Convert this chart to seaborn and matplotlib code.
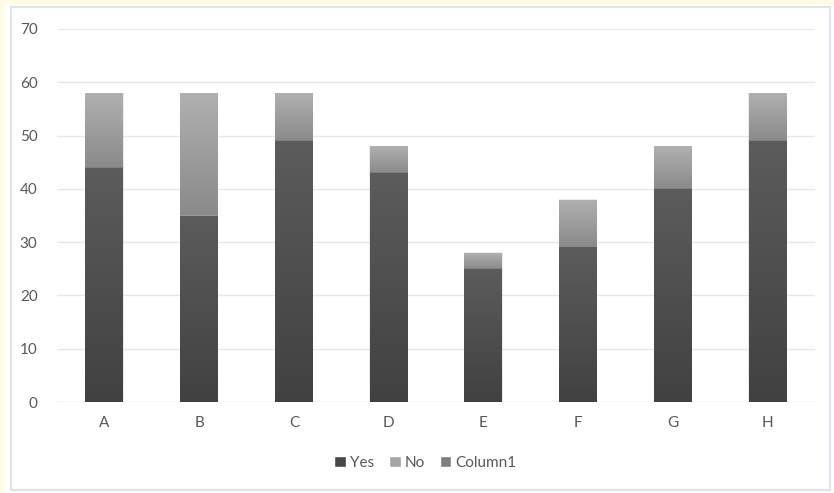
import numpy as np
import pandas as pd
import matplotlib
matplotlib.use("Agg")
import matplotlib.pyplot as plt
from matplotlib.patches import Rectangle, Patch
from matplotlib.colors import LinearSegmentedColormap
import seaborn as sns

categories = ["A", "B", "C", "D", "E", "F", "G", "H"]
yes_vals = [44, 35, 49, 43, 25, 29, 40, 49]
no_vals = [14, 23, 9, 5, 3, 9, 8, 9]
col1_vals = [0, 0, 0, 0, 0, 0, 0, 0]
yticks = [0, 10, 20, 30, 40, 50, 60, 70]

sns.set_theme(style="white")
plt.rcParams["font.family"] = ["Lato", "DejaVu Sans"]

W, H = 834, 493
fig = plt.figure(figsize=(W / 100, H / 100), dpi=100)
fig.patch.set_facecolor("#fffbe6")
fig.patches.append(Rectangle((5 / W, 0), 1, 1 - 5 / H, transform=fig.transFigure,
                             facecolor="white", edgecolor="none", zorder=-10))
fig.patches.append(Rectangle((10.5 / W, 3 / H), (830 - 10.5) / W, (486 - 3) / H,
                             transform=fig.transFigure, facecolor="white",
                             edgecolor="#dfe3ec", linewidth=1.5, zorder=-9))

ax = fig.add_axes([57 / W, 1 - 402 / H, (815 - 57) / W, (402 - 29) / H])
ax.set_facecolor("none")

df = pd.DataFrame({"cat": categories, "Yes": yes_vals, "No": no_vals, "Column1": col1_vals})
df["total"] = df["Yes"] + df["No"] + df["Column1"]

text_col = "#55595f"
bw = 0.40
sns.barplot(data=df, x="cat", y="total", color="#a5a5a5", width=bw, ax=ax,
            saturation=1, zorder=2, linewidth=0)
n_no = len(ax.patches)
sns.barplot(data=df, x="cat", y="Yes", color="#474747", width=bw, ax=ax,
            saturation=1, zorder=3, linewidth=0)

cmap_no = LinearSegmentedColormap.from_list("no", ["#8a8a8a", "#b0b0b0"])
cmap_yes = LinearSegmentedColormap.from_list("yes", ["#414141", "#5c5c5c"])
grad = np.linspace(0, 1, 256).reshape(-1, 1)

for i, p in enumerate(list(ax.patches)):
    x, w = p.get_x(), p.get_width()
    if i < n_no:
        idx = i
        y0, y1 = yes_vals[idx], yes_vals[idx] + no_vals[idx]
        cm, z = cmap_no, 2.5
    else:
        idx = i - n_no
        y0, y1 = 0, yes_vals[idx]
        cm, z = cmap_yes, 3.5
    sh = Rectangle((x - 0.004, y0), w + 0.008, y1 - y0 + 0.08, facecolor="#000000",
                   alpha=0.08, edgecolor="none", zorder=z - 0.8)
    ax.add_patch(sh)
    im = ax.imshow(grad, extent=[x, x + w, y0, y1], origin="lower", cmap=cm,
                   aspect="auto", zorder=z, interpolation="bilinear")
    im.set_clip_path(p)

ax.set_xlim(-0.5, len(categories) - 0.5)
ax.set_ylim(0, 70)
ax.set_yticks(yticks)
for yv in yticks:
    ax.axhline(yv, color="#d9d9d9" if yv == 0 else "#e6e8ef", linewidth=1.0, zorder=1)
for s in ax.spines.values():
    s.set_visible(False)
ax.set_xlabel("")
ax.set_ylabel("")
ax.tick_params(axis="both", length=0, labelsize=11, colors=text_col)
ax.tick_params(axis="y", pad=14)
ax.tick_params(axis="x", pad=10)

handles = [Patch(facecolor="#474747", label="Yes"),
           Patch(facecolor="#a5a5a5", label="No"),
           Patch(facecolor="#7f7f7f", label="Column1")]
leg = fig.legend(handles=handles, loc="center", bbox_to_anchor=(0.51, 1 - 463 / H),
                 ncol=3, frameon=False, fontsize=11, handlelength=0.75,
                 handleheight=0.75, handletextpad=0.25, columnspacing=1.0)
for t in leg.get_texts():
    t.set_color(text_col)

fig.savefig("out.png", dpi=100, facecolor=fig.get_facecolor())
